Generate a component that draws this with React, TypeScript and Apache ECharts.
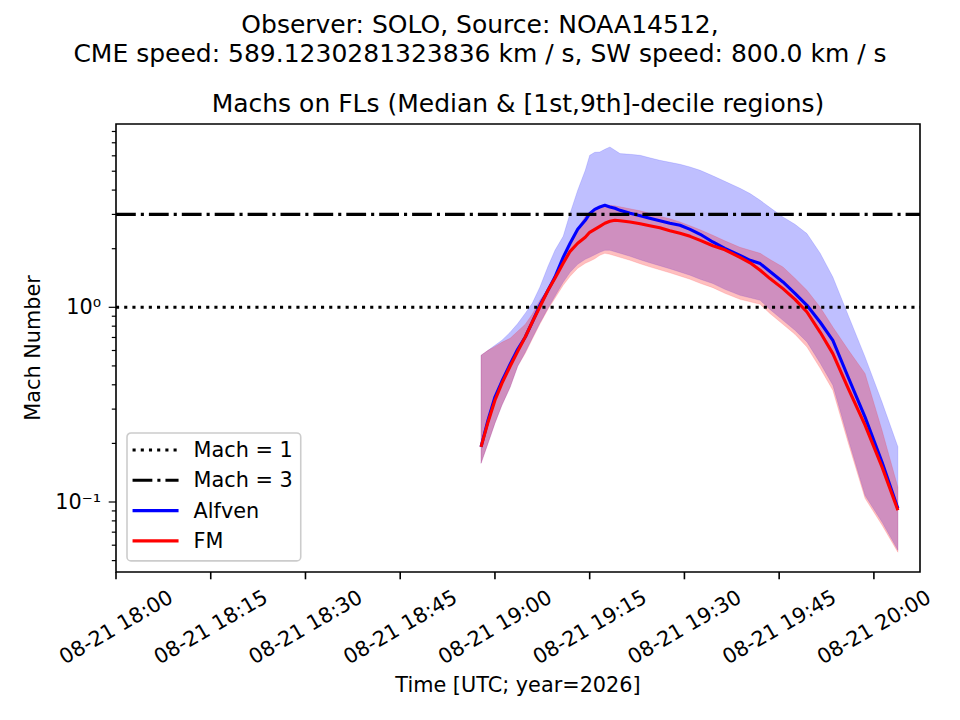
import React, { useEffect, useRef } from 'react';
import * as echarts from 'echarts';

// time in minutes after 18:00 UTC on 08-21
const T = [57.8, 58.9, 60.0, 61.1, 62.4, 63.6, 64.8, 65.9, 67.1, 68.4, 69.5, 70.8, 71.9, 73.1, 74.3, 75.0, 75.8, 76.6, 77.4, 78.2, 79.0, 79.8, 81.4, 83.0, 84.5, 86.1, 87.7, 89.3, 90.9, 92.5, 94.5, 96.4, 98.8, 100.4, 102.0, 103.5, 105.6, 107.5, 109.4, 111.5, 113.5, 116.0, 118.6, 121.3, 123.8];

// Alfven Mach: median, 9th decile, 1st decile
const A_MED = [0.192, 0.263, 0.346, 0.417, 0.510, 0.609, 0.704, 0.838, 1.024, 1.223, 1.431, 1.806, 2.132, 2.515, 2.798, 3.029, 3.186, 3.274, 3.341, 3.274, 3.225, 3.149, 3.040, 2.951, 2.865, 2.782, 2.701, 2.638, 2.515, 2.372, 2.165, 2.009, 1.849, 1.744, 1.677, 1.531, 1.349, 1.180, 1.024, 0.838, 0.677, 0.432, 0.273, 0.160, 0.0925];
const A_HI = [0.567, 0.601, 0.638, 0.677, 0.744, 0.825, 0.932, 1.048, 1.267, 1.624, 1.962, 2.315, 3.040, 3.990, 5.053, 6.035, 6.254, 6.276, 6.480, 6.659, 6.404, 6.158, 6.107, 6.035, 5.860, 5.689, 5.556, 5.426, 5.256, 5.053, 4.736, 4.437, 4.086, 3.837, 3.545, 3.261, 2.910, 2.669, 2.391, 1.894, 1.431, 0.899, 0.556, 0.325, 0.192];
const A_LO = [0.158, 0.200, 0.254, 0.314, 0.388, 0.498, 0.587, 0.693, 0.828, 0.988, 1.139, 1.344, 1.513, 1.663, 1.764, 1.806, 1.860, 1.916, 1.962, 1.962, 1.928, 1.894, 1.828, 1.754, 1.693, 1.634, 1.577, 1.518, 1.460, 1.393, 1.324, 1.237, 1.152, 1.119, 1.086, 0.977, 0.857, 0.762, 0.664, 0.516, 0.398, 0.207, 0.108, 0.0787, 0.0565];

// Fast-mode Mach: median, 9th decile, 1st decile
const F_MED = [0.192, 0.257, 0.333, 0.407, 0.498, 0.594, 0.704, 0.838, 1.004, 1.223, 1.409, 1.683, 1.939, 2.132, 2.288, 2.428, 2.515, 2.606, 2.701, 2.765, 2.798, 2.782, 2.743, 2.685, 2.622, 2.561, 2.472, 2.399, 2.315, 2.208, 2.070, 1.974, 1.806, 1.693, 1.549, 1.409, 1.247, 1.099, 0.946, 0.744, 0.578, 0.379, 0.248, 0.151, 0.0907];
const F_HI = [0.567, 0.601, 0.630, 0.661, 0.693, 0.753, 0.818, 0.921, 1.086, 1.237, 1.426, 1.785, 2.158, 2.545, 2.934, 3.087, 3.225, 3.302, 3.341, 3.341, 3.321, 3.282, 3.205, 3.130, 3.040, 2.934, 2.848, 2.743, 2.622, 2.500, 2.344, 2.195, 2.033, 1.962, 1.894, 1.764, 1.611, 1.409, 1.223, 1.000, 0.792, 0.601, 0.457, 0.233, 0.119];
const F_LO = [0.158, 0.200, 0.254, 0.314, 0.388, 0.498, 0.580, 0.685, 0.818, 0.977, 1.112, 1.297, 1.443, 1.586, 1.683, 1.723, 1.775, 1.849, 1.894, 1.872, 1.839, 1.806, 1.744, 1.673, 1.614, 1.558, 1.504, 1.448, 1.393, 1.328, 1.262, 1.180, 1.099, 1.067, 1.036, 0.932, 0.818, 0.727, 0.625, 0.486, 0.375, 0.198, 0.1045, 0.076, 0.0552];

const MACH_LEVELS = [1, 3];
const LEGEND_NAMES = ['Mach = 1', 'Mach = 3', 'Alfven', 'FM'];

const X_TICKS = [0, 15, 30, 45, 60, 75, 90, 105, 120];
const Y_MAJOR = [0.1, 1];
const Y_MINOR = [0.05, 0.06, 0.07, 0.08, 0.09, 0.2, 0.3, 0.4, 0.5, 0.6, 0.7, 0.8, 0.9, 2, 3, 4, 5, 6, 7, 8];
const X_MIN = 0;
const X_MAX = 127.3;
const Y_MIN = 0.0437;
const Y_MAX = 8.74;
const DATE_LABEL = '08-21';
const START_HOUR = 18;

const SUPTITLE = 'Observer: SOLO, Source: NOAA14512,\nCME speed: 589.1230281323836 km / s, SW speed: 800.0 km / s';
const TITLE = 'Machs on FLs (Median & [1st,9th]-decile regions)';
const X_NAME = 'Time [UTC; year=2026]';
const Y_NAME = 'Mach Number';

const FONT = "'DejaVu Sans', sans-serif";
const FS = 20.8;

const SUP: Record<string, string> = { '0': '⁰', '1': '¹', '2': '²', '3': '³', '4': '⁴', '5': '⁵', '6': '⁶', '7': '⁷', '8': '⁸', '9': '⁹', '-': '⁻' };
const sup = (n: number) => String(n).split('').map((c) => SUP[c] || c).join('');

function fmtTime(m: number) {
  if (Math.abs(m / 15 - Math.round(m / 15)) > 1e-6) return '';
  const total = START_HOUR * 60 + Math.round(m);
  const h = Math.floor(total / 60);
  const mm = total % 60;
  return `${DATE_LABEL} ${String(h).padStart(2, '0')}:${String(mm).padStart(2, '0')}`;
}

function fmtLog(v: number) {
  const l = Math.log10(v);
  const r = Math.round(l);
  if (Math.abs(l - r) > 1e-6) return '';
  return '10' + sup(r);
}

function bandRender(hi: number[], lo: number[], color: string) {
  return (params: any, api: any) => {
    if (params.dataIndex !== 0) return { type: 'group', children: [] };
    const pts: number[][] = [];
    for (let i = 0; i < T.length; i++) pts.push(api.coord([T[i], hi[i]]));
    for (let i = T.length - 1; i >= 0; i--) pts.push(api.coord([T[i], lo[i]]));
    return { type: 'polygon', shape: { points: pts }, style: { fill: color, stroke: color, lineWidth: 0.5 }, silent: true };
  };
}

export default function App() {
  const ref = useRef<HTMLDivElement>(null);
  useEffect(() => {
    document.body.style.margin = '0';
    if (!ref.current) return;
    const chart = echarts.init(ref.current, null, { renderer: 'svg', width: 960, height: 720 });
    const option: any = {
      animation: false,
      backgroundColor: '#ffffff',
      textStyle: { fontFamily: FONT },
      title: [
        {
          text: SUPTITLE, left: 480, top: 10.3, textAlign: 'center', padding: 0,
          textStyle: { fontSize: 25, lineHeight: 28.7, fontWeight: 'normal', color: '#000', fontFamily: FONT },
        },
        {
          text: TITLE, left: 518, top: 90.5, textAlign: 'center', padding: 0,
          textStyle: { fontSize: 25, lineHeight: 25, fontWeight: 'normal', color: '#000', fontFamily: FONT },
        },
      ],
      grid: { left: 116, top: 124, width: 804, height: 448, show: true, borderColor: '#000', borderWidth: 1.6, backgroundColor: 'transparent' },
      legend: {
        data: LEGEND_NAMES.map((name) => ({ name })),
        orient: 'vertical', left: 127, top: 433,
        itemWidth: 46, itemHeight: 21, itemGap: 9.3,
        padding: [6.5, 8, 9.5, 4],
        backgroundColor: 'rgba(255,255,255,0.8)', borderColor: '#cccccc', borderWidth: 1.6, borderRadius: 4,
        selectedMode: false,
        lineStyle: { width: 3.1 },
        itemStyle: { opacity: 0, borderWidth: 0 },
        textStyle: { fontSize: FS, color: '#000', lineHeight: 21, padding: [0, 0, 0, 10], fontFamily: FONT },
      },
      xAxis: {
        type: 'value', min: X_MIN, max: X_MAX, interval: 15,
        axisLine: { show: false }, axisTick: { show: false }, splitLine: { show: false },
        axisLabel: { formatter: fmtTime, rotate: 30, align: 'center', verticalAlign: 'middle', margin: 55, fontSize: FS, color: '#000', fontFamily: FONT },
        name: X_NAME, nameLocation: 'middle', nameGap: 102,
        nameTextStyle: { fontSize: FS, color: '#000', lineHeight: FS, fontFamily: FONT },
      },
      yAxis: {
        type: 'log', logBase: 10, min: Y_MIN, max: Y_MAX,
        axisLine: { show: false }, axisTick: { show: false }, splitLine: { show: false }, minorTick: { show: false },
        axisLabel: { formatter: fmtLog, margin: 15, fontSize: FS, color: '#000', fontFamily: FONT },
        name: Y_NAME, nameLocation: 'middle', nameGap: 73,
        nameTextStyle: { fontSize: FS, color: '#000', lineHeight: FS, fontFamily: FONT },
      },
      series: [
        { type: 'custom', name: 'Alfven band', data: T.map((t, i) => [t, A_HI[i]]), renderItem: bandRender(A_HI, A_LO, 'rgba(0,0,255,0.25)'), silent: true, z: 1 },
        { type: 'custom', name: 'FM band', data: T.map((t, i) => [t, F_HI[i]]), renderItem: bandRender(F_HI, F_LO, 'rgba(255,0,0,0.25)'), silent: true, z: 1 },
        {
          type: 'line', name: 'Alfven', data: T.map((t, i) => [t, A_MED[i]]), symbol: 'none', z: 3,
          lineStyle: { color: '#0000ff', width: 3.1, join: 'round' }, itemStyle: { color: '#0000ff' },
        },
        {
          type: 'line', name: 'FM', data: T.map((t, i) => [t, F_MED[i]]), symbol: 'none', z: 3,
          lineStyle: { color: '#ff0000', width: 3.1, join: 'round' }, itemStyle: { color: '#ff0000' },
        },
        {
          type: 'line', name: 'Mach = 1', data: [[X_MIN, MACH_LEVELS[0]], [X_MAX, MACH_LEVELS[0]]], symbol: 'none', z: 4,
          lineStyle: { color: '#000', width: 3.1, type: [3.1, 5.1] }, itemStyle: { color: '#000' },
        },
        {
          type: 'line', name: 'Mach = 3', data: [[X_MIN, MACH_LEVELS[1]], [X_MAX, MACH_LEVELS[1]]], symbol: 'none', z: 4,
          lineStyle: { color: '#000', width: 3.1, type: [19.8, 5, 3.1, 5] }, itemStyle: { color: '#000' },
        },
        {
          type: 'custom', name: 'xticks', silent: true, z: 5,
          data: X_TICKS.map((v) => [v, Y_MIN]),
          renderItem: (params: any, api: any) => {
            const p = api.coord([api.value(0), Y_MIN]);
            return { type: 'line', shape: { x1: p[0], y1: p[1], x2: p[0], y2: p[1] + 7.3 }, style: { stroke: '#000', lineWidth: 1.6 } };
          },
        },
        {
          type: 'custom', name: 'yticks', silent: true, z: 5,
          data: [...Y_MAJOR.map((v) => [X_MIN, v, 7.3]), ...Y_MINOR.map((v) => [X_MIN, v, 4.2])],
          renderItem: (params: any, api: any) => {
            const p = api.coord([X_MIN, api.value(1)]);
            const len = api.value(2);
            return { type: 'line', shape: { x1: p[0] - len, y1: p[1], x2: p[0], y2: p[1] }, style: { stroke: '#000', lineWidth: 1.2 } };
          },
        },
      ],
    };
    chart.setOption(option);
    return () => chart.dispose();
  }, []);
  return <div ref={ref} style={{ width: 960, height: 720 }} />;
}
